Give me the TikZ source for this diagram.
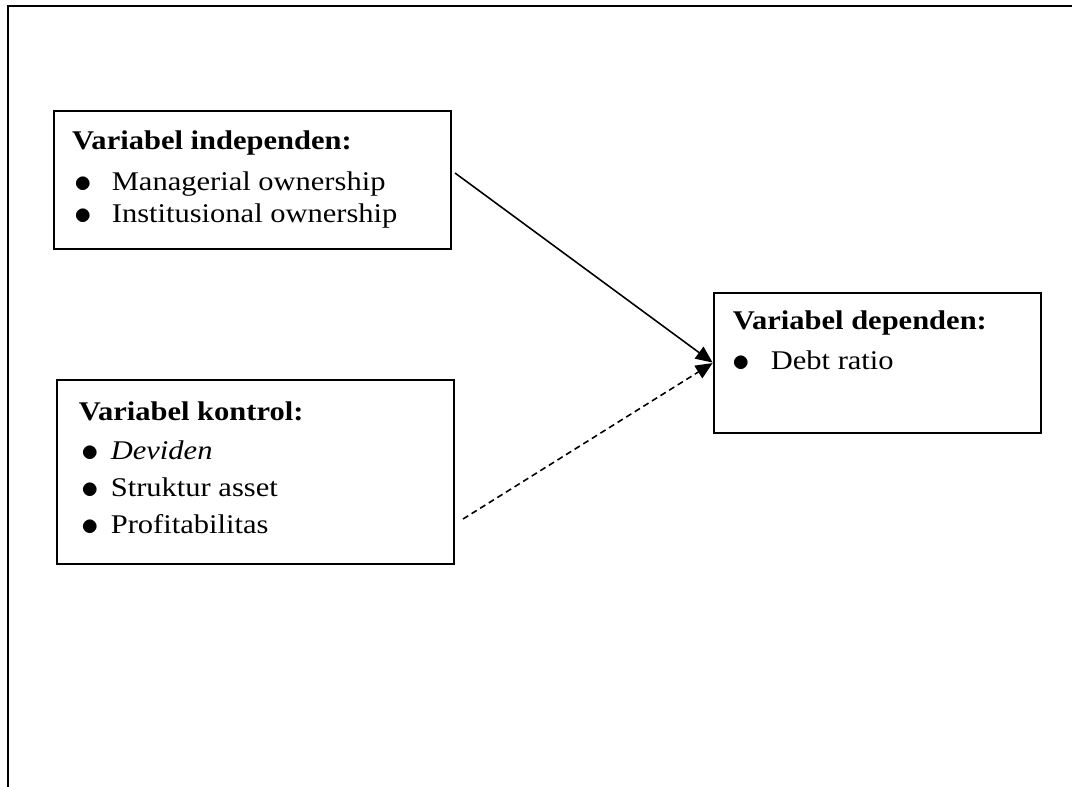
\documentclass[tikz,border=0pt]{standalone}
\usepackage{fontspec}
\setmainfont{Liberation Serif}[FakeStretch=1.13]
\usepackage{graphicx}
\usepackage{tikz}
\usetikzlibrary{positioning,arrows.meta}
\newdimen\pxu
\pxu=0.4444pt
\newcommand{\vhead}[2]{\hspace*{#1\pxu}\textbf{#2}}
\newcommand{\vitem}[3]{\hspace*{#1\pxu}\makebox[#2\pxu][l]{\raisebox{-0.9pt}{\scalebox{1.3}{$\bullet$}}}#3}
\tikzset{
  frame/.style ={line width=0.9pt, line cap=rect},
  varbox/.style={draw, line width=0.75pt, inner sep=0pt, anchor=north west},
  link/.style  ={-{Triangle[length=7.5pt,width=6.5pt]}, line width=0.7pt, shorten >=0.2pt},
}

\begin{document}
\begin{tikzpicture}[x=0.4444pt,y=-0.4444pt,font=\fontsize{12pt}{14.2pt}\selectfont]
    \useasboundingbox (0,0) rectangle (1072,787);
    \draw[frame] (8.3,788) -- (8.3,6) -- (1072,6);
    \node[varbox] (indep) at (53,110) {\begin{minipage}[t][138\pxu][t]{397\pxu}
        \fontsize{12pt}{14.2pt}\selectfont\vspace*{20\pxu}%
        \vhead{18.4}{Variabel independen:}\\[4pt]
        \vitem{20.5}{37.5}{Managerial ownership}\\
        \vitem{20.5}{37.5}{Institusional ownership}
      \end{minipage}};
    \node[varbox] (kontrol) at (56,379) {\begin{minipage}[t][184\pxu][t]{397\pxu}
        \fontsize{12pt}{16.4pt}\selectfont\vspace*{22\pxu}%
        \vhead{22}{Variabel kontrol:}\\[0.9pt]
        \vitem{24.5}{29.5}{\textit{Deviden}}\\
        \vitem{24.5}{29.5}{Struktur asset}\\
        \vitem{24.5}{29.5}{Profitabilitas}
      \end{minipage}};
    \node[varbox] (dep) at (713,292) {\begin{minipage}[t][140\pxu][t]{327\pxu}
        \fontsize{12pt}{17.8pt}\selectfont\vspace*{18\pxu}%
        \vhead{19}{Variabel dependen:}\\
        \vitem{18.5}{38.5}{Debt ratio}
      \end{minipage}};
    \coordinate (indepout) at (455,173);
    \coordinate (kontrolout) at (463,519);
    \draw[link] (indepout) -- (dep.west);
    \draw[link,dash pattern=on 2.7pt off 1.8pt] (kontrolout) -- (dep.west);
  \end{tikzpicture}
\end{document}
